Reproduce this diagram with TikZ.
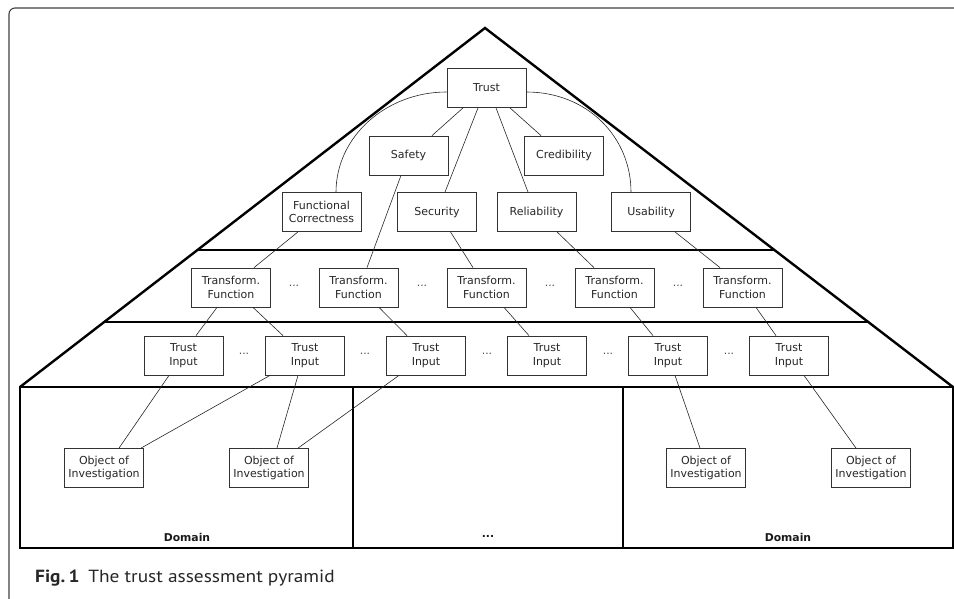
\documentclass[tikz,border=0pt]{standalone}
\usepackage{fontspec}
\setmainfont{DejaVu Sans}
\newfontfamily\capfont{PT Sans}
\usetikzlibrary{calc}
\begin{document}
\begin{tikzpicture}[x=1pt,y=-1pt,
  box/.style={draw=black!80, line width=0.8pt, minimum width=79pt, minimum height=39pt,
    inner sep=0pt, align=center, font=\fontsize{11}{13.6}\selectfont, text=black!85},
  conn/.style={draw=black!85, line width=0.6pt},
  heavy/.style={draw=black, line width=2.4pt, line join=miter},
  mid/.style={draw=black, line width=1.8pt},
  dotsnode/.style={font=\fontsize{10.8}{13}\selectfont, text=black!70, inner sep=0pt},
  domlabel/.style={font=\bfseries\fontsize{10.8}{13}\selectfont, text=black!90, inner sep=0pt},
  frame/.style={draw=black!75, line width=1.1pt, rounded corners=6pt}
]
\useasboundingbox (0,0) rectangle (954,599);
% outer frame
\draw[frame] (9,602) -- (9,8) -- (958,8);

% pyramid
\coordinate (apex) at (485,28);
\coordinate (lf) at (20,387);
\coordinate (rf) at (953,387);
\coordinate (dbr) at (953,548);
\draw[heavy] (lf) -- (apex) -- (rf);
\draw[heavy] ($(apex)!0.6184!(lf)$) -- ($(apex)!0.6184!(rf)$);
\draw[heavy] ($(apex)!0.819!(lf)$) -- ($(apex)!0.819!(rf)$);
\draw[heavy] (lf) rectangle (dbr);
\coordinate (dv1t) at (353,387); \coordinate (dv1b) at (353,548);
\coordinate (dv2t) at (623,387); \coordinate (dv2b) at (623,548);
\draw[mid] (dv1t) -- (dv1b);
\draw[mid] (dv2t) -- (dv2b);

% top level
\node[box] (trust) at (486.5,88) {Trust};
\node[box] (safety) at (408.5,155.5) {Safety};
\node[box] (cred) at (564,155.5) {Credibility};
\node[box] (fc) at (321.5,212) {Functional\\Correctness};
\node[box] (sec) at (437,212) {Security};
\node[box] (rel) at (536.5,212) {Reliability};
\node[box] (usa) at (651,212) {Usability};

% transform functions
\foreach \i/\x in {1/231,2/358.5,3/486.5,4/614.5,5/742.5}
  \node[box] (t\i) at (\x,287.5) {Transform.\\Function};
\foreach \i/\x in {1/294,2/422,3/550,4/678}
  \node[dotsnode] (td\i) at (\x,286) {...};

% trust inputs
\foreach \i/\x in {1/183.5,2/305,3/426,4/547,5/668,6/789}
  \node[box] (ti\i) at (\x,355.5) {Trust\\Input};
\foreach \i/\x in {1/244,2/365,3/487,4/608,5/729}
  \node[dotsnode] (tid\i) at (\x,354) {...};

% objects of investigation
\foreach \i/\x in {1/104,2/269,3/706,4/871}
  \node[box] (oi\i) at (\x,468) {Object of\\Investigation};

% domain labels
\node[domlabel] (dom1) at (187,537) {Domain};
\node[domlabel] (dom2) at (488,536) {...};
\node[domlabel] (dom3) at (788,537) {Domain};

% arcs
\draw[conn] ([yshift=-4pt]trust.west) .. controls +(-61,0) and +(0,-55) .. ([xshift=14.5pt]fc.north);
\draw[conn] ([yshift=-4pt]trust.east) .. controls +(61,0) and +(0,-55) .. ([xshift=-20pt]usa.north);

% trust children
\draw[conn] ([xshift=-23.5pt]trust.south) -- ([xshift=23.5pt]safety.north);
\draw[conn] ([xshift=-8.5pt]trust.south) -- ([xshift=8pt]sec.north);
\draw[conn] ([xshift=9.5pt]trust.south) -- ([xshift=-8.5pt]rel.north);
\draw[conn] ([xshift=23.5pt]trust.south) -- ([xshift=-23pt]cred.north);

% properties to transform functions
\draw[conn] ([xshift=-23.5pt]fc.south) -- ([xshift=23pt]t1.north);
\draw[conn] ([xshift=-7.5pt]safety.south) -- ([xshift=8.5pt]t2.north);
\draw[conn] ([xshift=13.5pt]sec.south) -- ([xshift=-13.5pt]t3.north);
\draw[conn] ([xshift=20.5pt]rel.south) -- ([xshift=-20.5pt]t4.north);
\draw[conn] ([xshift=24pt]usa.south) -- ([xshift=-22.5pt]t5.north);

% transform functions to trust inputs
\draw[conn] ([xshift=-14pt]t1.south) -- ([xshift=12.5pt]ti1.north);
\draw[conn] ([xshift=22pt]t1.south) -- ([xshift=-22pt]ti2.north);
\draw[conn] ([xshift=20.5pt]t2.south) -- ([xshift=-19pt]ti3.north);
\draw[conn] ([xshift=17.5pt]t3.south) -- ([xshift=-18pt]ti4.north);
\draw[conn] ([xshift=15.5pt]t4.south) -- ([xshift=-15pt]ti5.north);
\draw[conn] ([xshift=13.5pt]t5.south) -- ([xshift=-13pt]ti6.north);

% trust inputs to objects
\draw[conn] ([xshift=-14.5pt]ti1.south) -- ([xshift=15pt]oi1.north);
\draw[conn] ([xshift=-35pt]ti2.south) -- ([xshift=37pt]oi1.north);
\draw[conn] ([xshift=-7pt]ti2.south) -- ([xshift=8pt]oi2.north);
\draw[conn] ([xshift=-27pt]ti3.south) -- ([xshift=29pt]oi2.north);
\draw[conn] ([xshift=7pt]ti5.south) -- ([xshift=-6pt]oi3.north);
\draw[conn] ([xshift=15pt]ti6.south) -- ([xshift=-15pt]oi4.north);

% caption
\node[anchor=base west, inner sep=0pt, text=black!85, font=\capfont\fontsize{17.6}{20}\selectfont] (cap) at (35,582) {\scalebox{1.1}[1]{\textbf{Fig.\,1}\hspace{0.45em}The trust assessment pyramid}};
\end{tikzpicture}
\end{document}
